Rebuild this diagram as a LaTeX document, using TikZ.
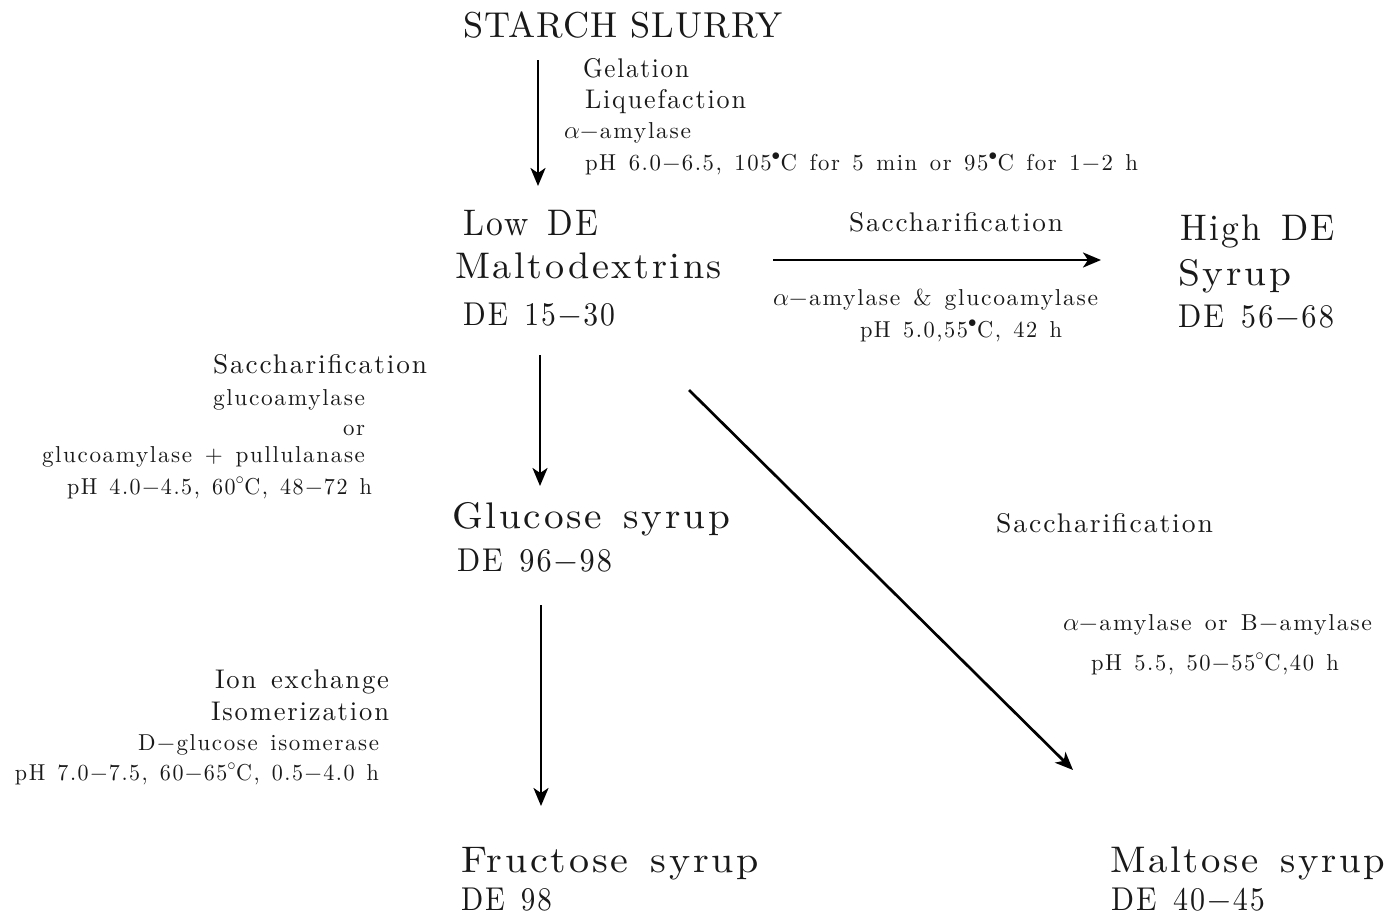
\documentclass[tikz,border=0pt]{standalone}
\usepackage{fontspec}
\setmainfont{lmroman10-regular}[Extension=.otf]
\usepackage{graphicx}
\usetikzlibrary{arrows.meta}
\newlength\fitlen
\newcommand\fitw[2]{\settowidth\fitlen{#2}\pgfmathsetmacro\fitr{#1/\fitlen}\scalebox{\fitr}[1]{#2}}
\newcommand\dg{\ensuremath{^{\circ}}}
\newcommand\dgb{\ensuremath{^{\bullet}}}
\newcommand\al{\ensuremath{\alpha}}
\newcommand\wsp{\spaceskip=0.55em\relax}
\begin{document}
\begin{tikzpicture}[x=1pt,y=-1pt,
  txt/.style={inner sep=0pt,outer sep=0pt,text=black!90},
  huge/.style={txt,font=\fontsize{36}{40}\selectfont\addfontfeatures{LetterSpace=3}},
  big/.style={txt,font=\fontsize{37}{40}\selectfont\addfontfeatures{LetterSpace=7}\wsp},
  debig/.style={txt,font=\fontsize{33}{36}\selectfont\addfontfeatures{LetterSpace=7}\wsp},
  mid/.style={txt,font=\fontsize{27}{30}\selectfont\addfontfeatures{LetterSpace=7}\wsp},
  small/.style={txt,font=\fontsize{23}{26}\selectfont\addfontfeatures{LetterSpace=7}\wsp},
  arr/.style={line width=2.7pt,-{Stealth[length=18pt,width=15pt,inset=5pt]}}]
\useasboundingbox (0,0) rectangle (1389,916);
% top
\node[huge,anchor=base west] (starch) at (463,37) {\fitw{320}{STARCH SLURRY}};
\node[mid,anchor=base west] (gel) at (583,77) {\fitw{106}{Gelation}};
\node[mid,anchor=base west] (liq) at (585,108) {\fitw{161}{Liquefaction}};
\node[small,anchor=base west] (alpha1) at (564,138) {\fitw{127}{\al−amylase}};
\node[small,anchor=base west] (ph1) at (585,170) {\fitw{553}{pH 6.0−6.5, 105\dgb C for 5 min or 95\dgb C for 1−2 h}};
% low DE
\node[big,anchor=base west] (low) at (463,235) {\fitw{135}{Low DE}};
\node[big,anchor=base west] (malto) at (455,278) {\fitw{267}{Maltodextrins}};
\node[debig,anchor=base west] (de1) at (463,325) {\fitw{152}{DE 15−30}};
% high DE
\node[mid,anchor=base west] (sacc1) at (849,231) {\fitw{214}{Saccharification}};
\node[small,anchor=base west] (amyl2) at (773,305) {\fitw{325}{\al−amylase \& glucoamylase}};
\node[small,anchor=base west] (ph2) at (860,337) {\fitw{202}{pH 5.0,55\dgb C, 42 h}};
\node[big,anchor=base west] (high) at (1180,240) {\fitw{155}{High DE}};
\node[big,anchor=base west] (syrup) at (1178,285) {\fitw{113}{Syrup}};
\node[debig,anchor=base west] (de2) at (1178,327) {\fitw{156}{DE 56−68}};
% left block 1
\node[mid,anchor=base east] (sacc2) at (427,373) {\fitw{214}{Saccharification}};
\node[small,anchor=base east] (gluco) at (365,405) {\fitw{152}{glucoamylase}};
\node[small,anchor=base east] (or) at (365,435) {\fitw{22}{or}};
\node[small,anchor=base east] (glupull) at (365,462) {\fitw{323}{glucoamylase + pullulanase}};
\node[small,anchor=base east] (ph3) at (372,494) {\fitw{305}{pH 4.0−4.5, 60\dg C, 48−72 h}};
% glucose
\node[big,anchor=base west] (glucose) at (452,528) {\fitw{278}{Glucose syrup}};
\node[debig,anchor=base west] (de3) at (457,571) {\fitw{155}{DE 96−98}};
% maltose branch labels
\node[mid,anchor=base west] (sacc3) at (996,532) {\fitw{217}{Saccharification}};
\node[small,anchor=base west] (amyl4) at (1063,630) {\fitw{309}{\al−amylase or B−amylase}};
\node[small,anchor=base west] (ph4) at (1091,670) {\fitw{248}{pH 5.5, 50−55\dg C,40 h}};
% left block 2
\node[mid,anchor=base east] (ion) at (389,688) {\fitw{174}{Ion exchange}};
\node[mid,anchor=base east] (isom) at (389,720) {\fitw{178}{Isomerization}};
\node[small,anchor=base east] (dgl) at (379,750) {\fitw{241}{D−glucose isomerase}};
\node[small,anchor=base east] (ph5) at (379,780) {\fitw{364}{pH 7.0−7.5, 60−65\dg C, 0.5−4.0 h}};
% bottom
\node[big,anchor=base west] (fruct) at (461,872) {\fitw{298}{Fructose syrup}};
\node[debig,anchor=base west] (de4) at (461,910) {\fitw{91}{DE 98}};
\node[big,anchor=base west] (maltose) at (1110,872) {\fitw{275}{Maltose syrup}};
\node[debig,anchor=base west] (de5) at (1111,910) {\fitw{154}{DE 40−45}};
% arrow ends
\coordinate (a1s) at (538,60);  \coordinate (a1e) at (538,186);
\coordinate (a2s) at (773,260); \coordinate (a2e) at (1101,260);
\coordinate (a3s) at (540,355); \coordinate (a3e) at (540,486);
\coordinate (a4s) at (541,605); \coordinate (a4e) at (541,806);
\coordinate (a5s) at (689,390); \coordinate (a5e) at (1073,770);
\draw[arr] (a1s) -- (a1e);
\draw[arr] (a2s) -- (a2e);
\draw[arr] (a3s) -- (a3e);
\draw[arr] (a4s) -- (a4e);
\draw[arr] (a5s) -- (a5e);
\end{tikzpicture}
\end{document}
